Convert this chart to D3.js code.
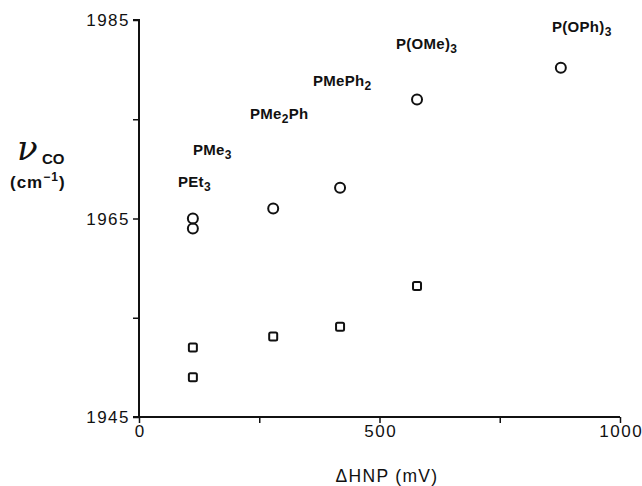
<!DOCTYPE html>
<html>
<head>
<meta charset="utf-8">
<script src="https://cdn.jsdelivr.net/npm/d3@7"></script>
<style>
  body { margin: 0; background: #fff; }
  text { font-family: "Liberation Sans", Arial, sans-serif; fill: #111; }
</style>
</head>
<body>
<script>
const ligands = ['PEt3', 'PMe3', 'PMe2Ph', 'PMePh2', 'P(OMe)3', 'P(OPh)3']
const hnp = [112, 112, 279, 418, 578, 877]
const circleCO = [1965.0, 1964.0, 1966.0, 1968.1, 1977.0, 1980.2]
const squareCO = [1949.0, 1952.0, 1953.1, 1954.1, 1958.2, null]
const xTicks = [0, 250, 500, 750, 1000]
const xTickLabels = ['0', '', '500', '', '1000']
const yTicks = [1945, 1955, 1965, 1975, 1985]
const yTickLabels = ['1945', '', '1965', '', '1985']
// label text: [base, subscript, base after]
const labelParts = [
  ['PEt', '3', ''],
  ['PMe', '3', ''],
  ['PMe', '2', 'Ph'],
  ['PMePh', '2', ''],
  ['P(OMe)', '3', ''],
  ['P(OPh)', '3', ''],
]
const labelY = [1968.2, 1971.4, 1975.0, 1978.3, 1982.1, 1983.8]
const labelX = [178, 193, 250, 313, 396, 552]

const width = 642
const height = 486
const svg = d3.select('body').append('svg').attr('width', width).attr('height', height)

const x = d3.scaleLinear().domain([0, 1000]).range([139, 620])
const y = d3.scaleLinear().domain([1945, 1985]).range([417, 20])

const xAxis = svg.append('g')
  .attr('transform', `translate(0, ${y(1945)})`)
  .call(d3.axisBottom(x).tickValues(xTicks).tickSize(6).tickPadding(2)
    .tickFormat((d, i) => xTickLabels[i]))
const yAxis = svg.append('g')
  .attr('transform', `translate(${x(0)}, 0)`)
  .call(d3.axisLeft(y).tickValues(yTicks).tickSize(6).tickPadding(4)
    .tickFormat((d, i) => yTickLabels[i]))

for (const g of [xAxis, yAxis]) {
  g.select('.domain').attr('stroke', '#111').attr('stroke-width', 2)
    .attr('d', g === xAxis ? `M${x(0) - 6},0H${x(1000)}` : `M0,${y(1945)}V${y(1985)}H-6`)
  g.selectAll('.tick line').attr('stroke', '#111').attr('stroke-width', 1.5)
  g.selectAll('.tick text').style('font-size', '17px').style('letter-spacing', '1.5px')
    .attr('fill', '#111')
}
yAxis.selectAll('.tick text').attr('dy', '0.35em').attr('dx', 1)
xAxis.selectAll('.tick text').attr('dx', 0.75)

// circles
const pts = hnp.map((h, i) => ({ h, c: circleCO[i], s: squareCO[i] }))
svg.append('g').selectAll('circle')
  .data(pts)
  .enter()
  .append('circle')
  .attr('cx', (d) => x(d.h))
  .attr('cy', (d) => y(d.c))
  .attr('r', 5)
  .attr('fill', 'none')
  .attr('stroke', '#111')
  .attr('stroke-width', 2)

// squares
svg.append('g').selectAll('rect')
  .data(pts.filter((d) => d.s !== null))
  .enter()
  .append('rect')
  .attr('x', (d) => x(d.h) - 4)
  .attr('y', (d) => y(d.s) - 4)
  .attr('width', 8)
  .attr('height', 8)
  .attr('rx', 1.5)
  .attr('fill', 'none')
  .attr('stroke', '#111')
  .attr('stroke-width', 2)

// ligand labels
const lab = svg.append('g').selectAll('text')
  .data(labelParts)
  .enter()
  .append('text')
  .attr('x', (d, i) => labelX[i])
  .attr('y', (d, i) => y(labelY[i]))
  .style('font-size', '15px')
  .style('font-weight', 'bold')
  .style('letter-spacing', '0.3px')
lab.append('tspan').text((d) => d[0])
lab.append('tspan').attr('dy', 4).style('font-size', '12px').text((d) => d[1])
lab.append('tspan').attr('dy', -4).text((d) => d[2])

// y axis title
const yt = svg.append('g')
yt.append('text').attr('x', 17).attr('y', 160)
  .style('font-family', '"DejaVu Serif", "Liberation Serif", serif')
  .style('font-style', 'italic').style('font-size', '34px').text('ν')
yt.append('text').attr('x', 42).attr('y', 164)
  .style('font-size', '15px').style('font-weight', 'bold').text('CO')
const cm = yt.append('text').attr('x', 10).attr('y', 188)
  .style('font-size', '17px').style('font-weight', 'bold').style('letter-spacing', '1px')
cm.append('tspan').text('(cm')
cm.append('tspan').attr('dy', -7).style('font-size', '12px').text('−1')
cm.append('tspan').attr('dy', 7).text(')')

// x axis title
svg.append('text').attr('x', 387).attr('y', 482)
  .attr('text-anchor', 'middle')
  .style('font-size', '17.5px').style('letter-spacing', '1.3px')
  .text('ΔHNP (mV)')
</script>
</body>
</html>
